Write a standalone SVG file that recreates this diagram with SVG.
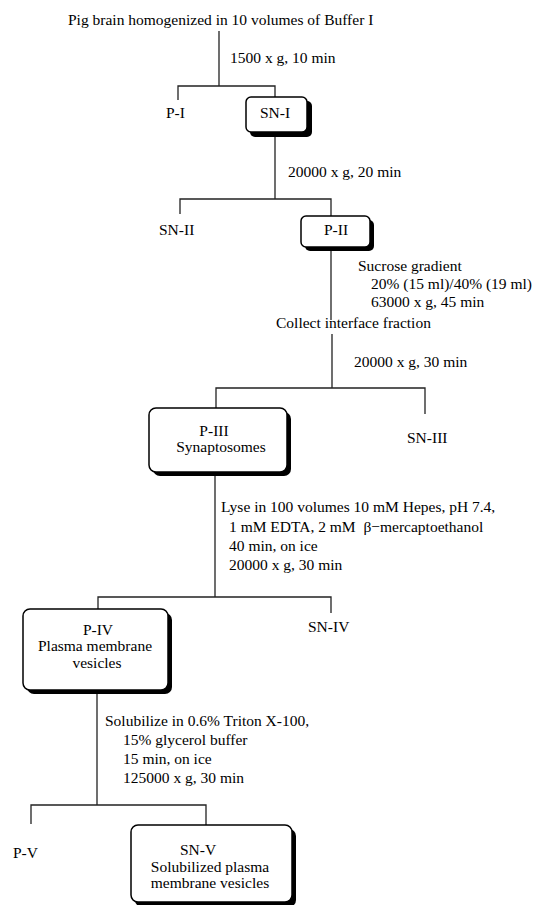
<svg xmlns="http://www.w3.org/2000/svg" width="536" height="905" viewBox="0 0 536 905">
<style>
text{font-family:"Liberation Serif","Times New Roman",serif;font-size:15.5px;fill:#000}
.c{text-anchor:middle}
.ln{stroke:#222;stroke-width:1.3;fill:none}
.sh{fill:#000}
.bx{fill:#fff;stroke:#000;stroke-width:1.5}
</style>
<rect width="536" height="905" fill="#fff"/>
<g id="connectors" class="ln">
<path d="M219,31 V86 M178,100 V86 H275 V97"/>
<path d="M275,136 V199 M180,214 V199 H331 V216"/>
<path d="M331,251 V320"/>
<path d="M332,334 V388 M425,414 V388 H216 V408"/>
<path d="M215,476 V597 M331,613 V597 H98 V609"/>
<path d="M97,694 V805 M31,824 V805 H206 V825"/>
</g>
<g id="labels">
<text x="68" y="25">Pig brain homogenized in 10 volumes of Buffer I</text>
<text x="230" y="63">1500 x g, 10 min</text>
<text x="288" y="177">20000 x g, 20 min</text>
<text x="358" y="271">Sucrose gradient</text>
<text x="371" y="289">20% (15 ml)/40% (19 ml)</text>
<text x="371" y="307">63000 x g, 45 min</text>
<text x="276" y="328">Collect interface fraction</text>
<text x="354" y="367">20000 x g, 30 min</text>
<text x="221" y="512">Lyse in 100 volumes 10 mM Hepes, pH 7.4,</text>
<text x="229" y="531.5" xml:space="preserve">1 mM EDTA, 2 mM  β−mercaptoethanol</text>
<text x="229" y="550.5">40 min, on ice</text>
<text x="229" y="569.5">20000 x g, 30 min</text>
<text x="105" y="726">Solubilize in 0.6% Triton X-100,</text>
<text x="123" y="745">15% glycerol buffer</text>
<text x="123" y="764">15 min, on ice</text>
<text x="123" y="783">125000 x g, 30 min</text>
</g>
<g id="P-I"><text x="166" y="118">P-I</text></g>
<g id="SN-I">
<rect class="sh" x="250" y="101" width="62" height="36" rx="5"/>
<rect class="bx" x="246" y="97" width="61" height="35" rx="5"/>
<text class="c" x="275" y="118">SN-I</text>
</g>
<g id="SN-II"><text x="159" y="235">SN-II</text></g>
<g id="P-II">
<rect class="sh" x="305" y="220" width="69" height="31" rx="5"/>
<rect class="bx" x="301" y="216" width="69" height="31" rx="5"/>
<text class="c" x="336" y="235">P-II</text>
</g>
<g id="P-III">
<rect class="sh" x="153" y="412" width="138" height="64" rx="7"/>
<rect class="bx" x="149" y="408" width="138" height="64" rx="7"/>
<text class="c" x="214" y="436">P-III</text>
<text class="c" x="221" y="452">Synaptosomes</text>
</g>
<g id="SN-III"><text x="407" y="443">SN-III</text></g>
<g id="P-IV">
<rect class="sh" x="27" y="613" width="145" height="81" rx="7"/>
<rect class="bx" x="23" y="609" width="145" height="81" rx="7"/>
<text class="c" x="98" y="635">P-IV</text>
<text class="c" x="95" y="651">Plasma membrane</text>
<text class="c" x="97" y="668">vesicles</text>
</g>
<g id="SN-IV"><text x="308" y="632">SN-IV</text></g>
<g id="P-V"><text x="13" y="858">P-V</text></g>
<g id="SN-V">
<rect class="sh" x="135" y="829" width="161" height="78" rx="7"/>
<rect class="bx" x="131" y="825" width="161" height="77" rx="7"/>
<text class="c" x="198" y="855">SN-V</text>
<text class="c" x="210" y="872">Solubilized plasma</text>
<text class="c" x="210" y="888">membrane vesicles</text>
</g>
</svg>
